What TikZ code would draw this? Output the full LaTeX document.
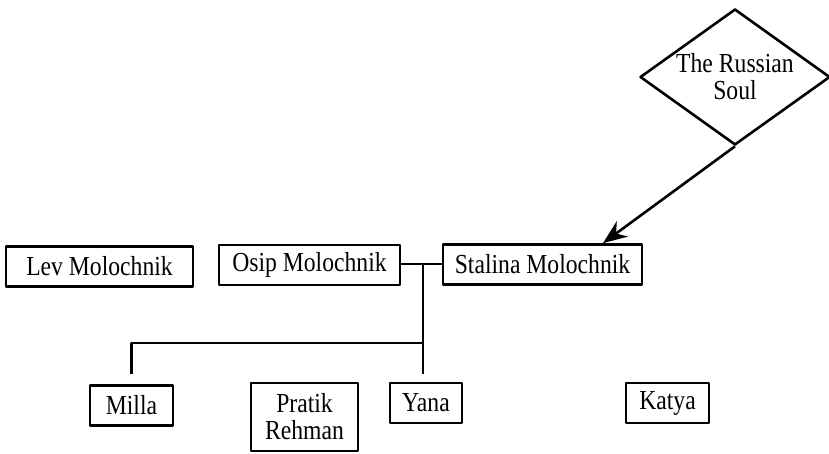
\documentclass[tikz,border=0pt]{standalone}
\usepackage{fontspec}
\setmainfont[FakeStretch=0.86]{Liberation Serif}
\usetikzlibrary{shapes.geometric,arrows.meta}
\tikzset{
  person/.style={draw, line width=2.8pt, inner sep=0pt, minimum height=40pt, align=center},
  soul/.style={draw, diamond, line width=2.6pt, inner sep=0pt, aspect=1.4, minimum width=190pt, minimum height=136pt, align=center},
  link/.style={line width=2.6pt}
}
\begin{document}
\begin{tikzpicture}[x=1pt, y=-1pt, font=\fontsize{27.5}{27}\selectfont, line join=round, >={Stealth[length=24pt,width=19pt]}]
  \useasboundingbox (0,0) rectangle (829,454);
  % top row
  \node[person, minimum width=187pt] (lev) at (99.5,266.5) {Lev Molochnik};
  \node[person, minimum width=181pt] (osip) at (309.5,265) {Osip Molochnik};
  \node[person, minimum width=199pt] (stalina) at (542.5,264.5) {Stalina Molochnik};
  % children
  \node[person, minimum width=83pt] (milla) at (131.5,405.5) {Milla};
  \node[person, minimum width=107pt, minimum height=68pt] (pratik) at (304.5,417) {Pratik\\Rehman};
  \node[person, minimum width=72pt] (yana) at (426,403) {Yana};
  \node[person, minimum width=83pt] (katya) at (667.5,403) {Katya};
  \node[soul] (russoul) at (735,77) {The Russian\\Soul};
  % marriage and descent
  \coordinate (wed) at (423,264);
  \coordinate (kids) at (423,343);
  \draw[link] (osip.east |- wed) -- (stalina.west |- wed);
  \draw[link] (wed) -- ([yshift=8pt]yana.north -| wed);
  \draw[link] (kids) -| ([yshift=10pt]milla.north);
  \draw[link,->] (russoul.south) -- (stalina.north -| 603,0);
\end{tikzpicture}
\end{document}
